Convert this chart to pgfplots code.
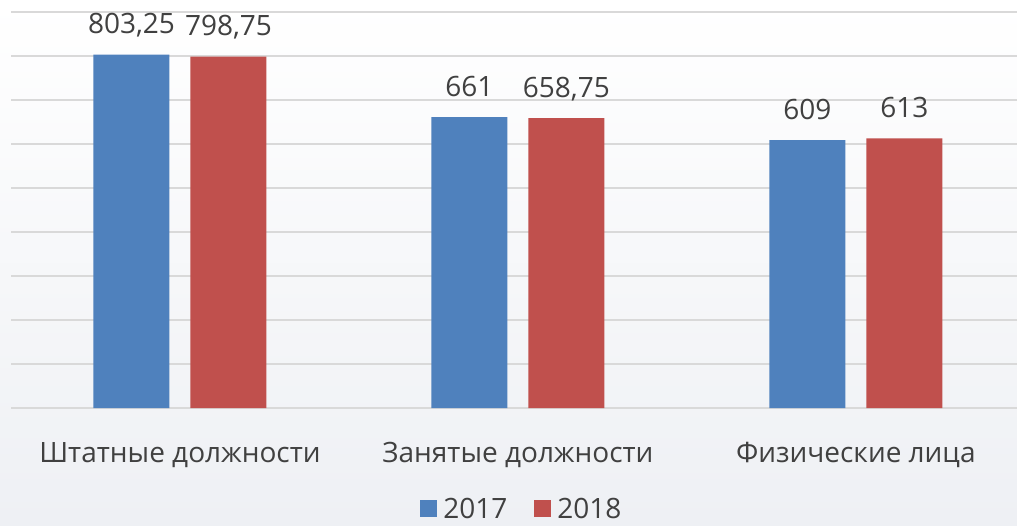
\documentclass[border=0pt]{standalone}
\usepackage{pgfplots}
\pgfplotsset{compat=1.18}
\usepackage{fontspec}
\setmainfont{Open Sans}
\definecolor{cblue}{HTML}{4F81BD}
\definecolor{cred}{HTML}{C0504D}
\definecolor{cgrid}{HTML}{D9D9D9}
\definecolor{ctext}{HTML}{404040}
\begin{document}
\begin{tikzpicture}
\shade[top color=white, bottom color={rgb,255:red,238;green,240;blue,244}] (-11pt,-117pt) rectangle (1006pt,408pt);
\begin{axis}[
  at={(0,0)}, anchor=south west,
  scale only axis,
  width=1007pt, height=396pt,
  xmin=-0.5, xmax=2.48,
  ymin=0, ymax=900,
  ybar=21pt, bar width=76pt,
  xtick={0,1,2},
  xticklabels={Штатные должности, Занятые должности, Физические лица},
  ytick={0,100,...,900},
  yticklabels={},
  ymajorgrids,
  grid style={cgrid, line width=1.3pt},
  axis line style={draw=none},
  major tick length=0pt,
  tick style={draw=none},
  /pgf/number format/assume math mode=true,
  /pgf/number format/use comma,
  /pgf/number format/1000 sep={},
  xticklabel style={anchor=base, inner sep=0pt, yshift=-54pt, font=\fontsize{28}{34}\selectfont, text=ctext},
  nodes near coords={\pgfmathprintnumber\pgfplotspointmeta},
  every node near coord/.append style={anchor=base, inner sep=0pt, yshift=21pt, font=\fontsize{28}{34}\selectfont, text=ctext},
  legend columns=-1,
  legend image code/.code={\fill[#1] (0pt,-8pt) rectangle (17pt,9pt);},
  legend style={at={(axis cs:1,0)}, anchor=center, xshift=6pt, yshift=-101pt, draw=none, fill=none,
    font=\fontsize{28}{34}\selectfont, text=ctext,
    nodes={inner xsep=6pt, inner ysep=0pt},
    /tikz/every even column/.append style={column sep=21pt}},
]
\addplot[fill=cblue, draw=none] coordinates {(0,803.25) (1,661) (2,609)};
\addplot[fill=cred, draw=none] coordinates {(0,798.75) (1,658.75) (2,613)};
\legend{2017,2018}
\end{axis}
\pgfresetboundingbox
\path[use as bounding box] (-11pt,-117pt) rectangle (1006pt,408pt);
\end{tikzpicture}
\end{document}
